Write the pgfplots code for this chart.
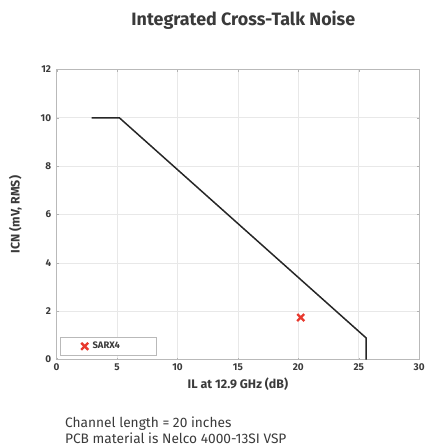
\documentclass[border=0pt]{standalone}
\usepackage{fontspec}
\setmainfont{Fira Sans}
\usepackage{pgfplots}
\pgfplotsset{compat=1.18}
\definecolor{txt}{HTML}{3A3A3A}
\definecolor{xred}{HTML}{E8392E}
\begin{document}
\begin{tikzpicture}
\begin{axis}[
  at={(0,0)}, anchor=south west,
  scale only axis, width=365pt, height=292pt,
  xmin=0, xmax=30, ymin=0, ymax=12,
  xtick={0,5,...,30}, ytick={0,2,...,12},
  grid=major, grid style={gray!18, line width=0.8pt},
  axis line style={gray!55, line width=0.8pt},
  major tick length=2pt, tick style={gray!60},
  tick align=inside,
  /pgf/number format/assume math mode=true,
  ticklabel style={font=\fontsize{10}{11}\selectfont\bfseries, text=txt},
  xticklabel style={yshift=-1pt},
  yticklabel style={xshift=-2pt},
  xlabel={IL at 12.9 GHz (dB)},
  ylabel={ICN (mV, RMS)},
  label style={font=\fontsize{12.5}{14}\selectfont\bfseries, text=txt},
  xlabel style={at={(axis description cs:0.5,-0.084)}, anchor=center},
  ylabel style={at={(axis description cs:-0.114,0.5)}, anchor=center},
  legend style={at={(rel axis cs:0,0)}, anchor=south west, xshift=3pt, yshift=4pt,
    draw=gray!55, font=\fontsize{9.5}{10}\selectfont\bfseries, text=txt,
    inner xsep=4pt, inner ysep=3pt, text width=58pt},
  legend image code/.code={\path[draw=none, fill=none] (0cm,0cm) rectangle (0.95cm,0cm);
    \draw[mark size=5pt, line width=2.4pt] plot[only marks] coordinates {(0.74cm,0cm)};},
  legend cell align=left,
  clip=false,
]
\addplot[black!85, line width=1.5pt, forget plot] coordinates {(2.9,10) (5.2,10) (25.6,0.9) (25.6,0)};
\addplot[only marks, mark=x, mark size=5pt, line width=2.4pt, color=xred] coordinates {(20.2,1.74)};
\addlegendentry{SARX4}
\end{axis}
\path (-57pt,-85pt) rectangle (371pt,362pt);
\node[font=\fontsize{18}{20}\selectfont\bfseries, text=txt] at (188pt,342pt) {Integrated Cross-Talk Noise};
\node[anchor=base west, font=\fontsize{13.8}{16}\selectfont, text=txt] at (5pt,-68pt) {Channel length = 20 inches};
\node[anchor=base west, font=\fontsize{13.8}{16}\selectfont, text=txt] at (5pt,-84.5pt) {PCB material is Nelco 4000-13SI VSP};
\end{tikzpicture}
\end{document}
